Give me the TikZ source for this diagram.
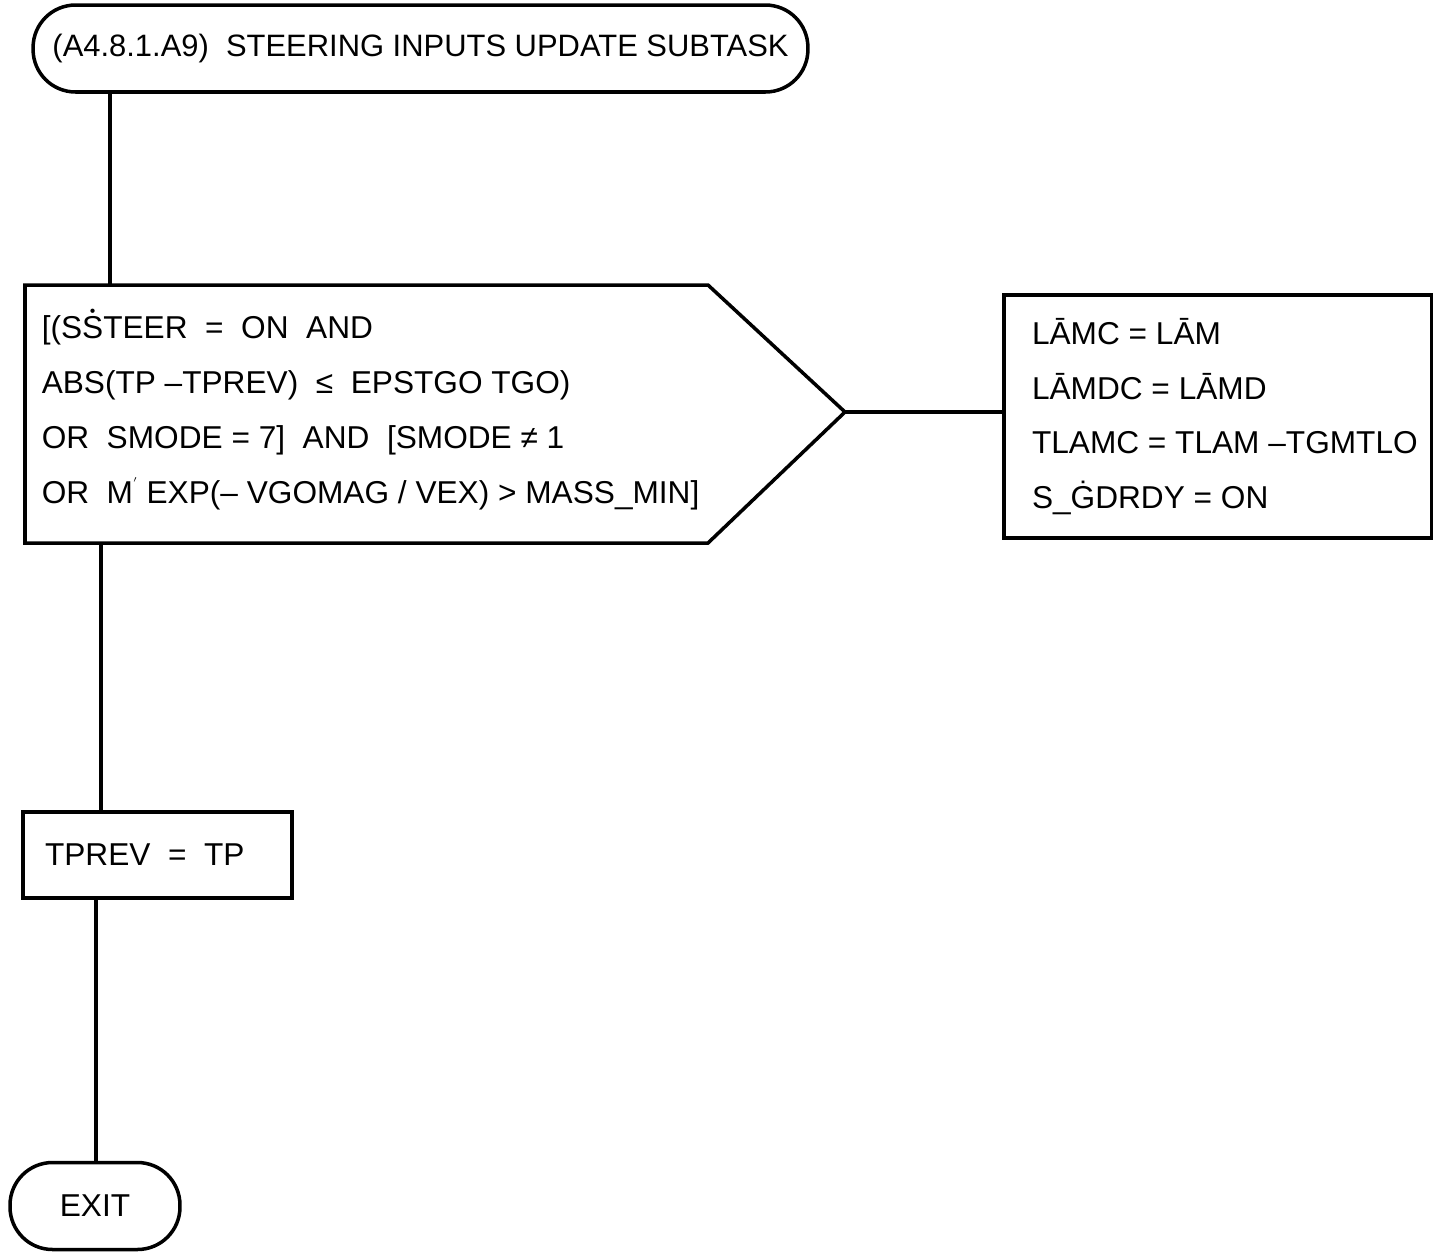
\documentclass[tikz,border=0pt]{standalone}
\usepackage{fontspec}
\setmainfont{Liberation Sans}
\usepackage{tikz}
\usetikzlibrary{positioning,calc}
\newcommand{\dotop}[1]{\ooalign{#1\cr\hidewidth\raisebox{0.7em}{\small\textbullet}\hidewidth\cr}}

\begin{document}
\begin{tikzpicture}[x=0.02cm,y=-0.02cm,line width=2pt,font=\fontsize{18}{31.2}\selectfont,
  term/.style={draw,rounded corners=0.85cm,minimum height=1.74cm,inner sep=0pt},
  procbox/.style={draw,inner sep=0pt},
  txt/.style={align=left,inner sep=0pt,anchor=west}]
  \useasboundingbox (0,0) rectangle (1433,1252);
  % Start / exit terminals
  \node[term,minimum width=15.5cm,font=\fontsize{17.6}{20}\selectfont] (start) at (420.5,48.5) {(A4.8.1.A9)\ \ STEERING INPUTS UPDATE SUBTASK};
  \node[term,minimum width=3.4cm] (exit) at (95,1206) {EXIT};
  % Decision
  \node[txt] (dec) at (40,413) {[(S\dotop{S}TEER \ = \ ON \ AND\\
    ABS(TP --TPREV) \ ≤ \ EPSTGO TGO)\\
    OR \ SMODE = 7] \ AND \ [SMODE ≠ 1\\
    OR \ M\raisebox{0.55em}{\tiny$'$} EXP(-- VGOMAG / VEX) > MASS\_MIN]};
  \draw (25,285) -- (708,285) -- (845,412) coordinate (dtip) -- (708,543) -- (25,543) -- cycle;
  \coordinate (din) at (110,285);
  \coordinate (dout) at (101,543);
  % Process boxes
  \node[procbox,minimum width=8.56cm,minimum height=4.86cm] (act) at (1218,416.5) {};
  \node[txt,right=0.56cm of act.west] (acttxt) {LĀMC = LĀM\\
     LĀMDC = LĀMD\\
     TLAMC = TLAM --TGMTLO\\
     S\_ĠDRDY = ON};
  \node[procbox,minimum width=5.38cm,minimum height=1.72cm] (prev) at (157.5,855) {};
  \node[txt,right=0.44cm of prev.west] (prevtxt) {TPREV \ = \ TP};
  % Connectors
  \draw (start.south -| din) -- (din);
  \draw (dtip) -- (dtip -| act.west);
  \draw (dout) -- (prev.north -| dout);
  \draw (prev.south -| 96,0) -- (exit.north -| 96,0);
\end{tikzpicture}
\end{document}
